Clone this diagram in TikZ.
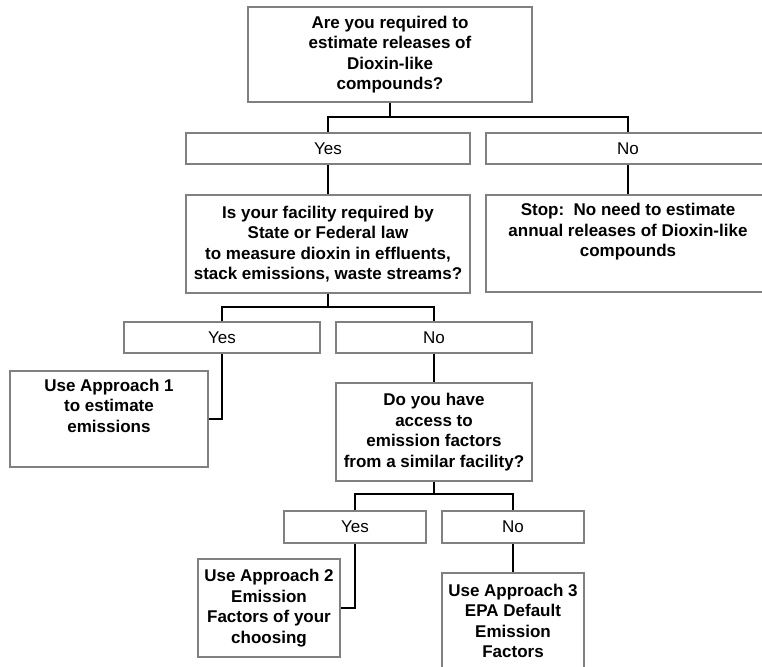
\documentclass[tikz,border=0pt]{standalone}
\usepackage{fontspec}
\setmainfont{Liberation Sans}
\begin{document}
\begin{tikzpicture}[
        x=1pt, y=-1pt,
        box/.style={rectangle, draw=black!50, line width=1.8pt, align=center, inner sep=0pt,
            font=\fontsize{17}{20.5}\selectfont},
        decision/.style={box, font=\fontsize{17}{20.5}\selectfont\bfseries},
        answer/.style={box, minimum height=31pt},
        result/.style={box, font=\fontsize{17}{20.5}\selectfont\bfseries},
        link/.style={line width=1.7pt, black}
    ]
        \useasboundingbox (0,0) rectangle (762,666);
        \clip (0,0) rectangle (762,666);

        % First question
        \node[decision, minimum width=284pt, minimum height=95pt] (q1) at (390,54.5)
            {Are you required to\\estimate releases of\\Dioxin-like\\compounds?};
        \node[answer, minimum width=284pt] (yes1) at (328,148.5) {Yes};
        \node[answer, minimum width=284pt] (no1) at (628,148.5) {No};
        \node[result, minimum width=284pt, minimum height=97pt] (stop) at (628,243.5)
            {Stop:\ \ No need to estimate\\annual releases of Dioxin-like\\compounds\\ \strut};

        % Second question
        \node[decision, minimum width=284pt, minimum height=98pt] (q2) at (328,244)
            {Is your facility required by\\State or Federal law\\to measure dioxin in effluents,\\stack emissions, waste streams?};
        \node[answer, minimum width=196pt] (yes2) at (222,337.5) {Yes};
        \node[answer, minimum width=196pt] (no2) at (434,337.5) {No};
        \node[result, minimum width=198pt, minimum height=96pt] (app1) at (109,419)
            {Use Approach 1\\to estimate\\emissions\\ \strut};

        % Third question
        \node[decision, minimum width=196pt, minimum height=98pt] (q3) at (434,432)
            {Do you have\\access to\\emission factors\\from a similar facility?};
        \node[answer, minimum width=142pt, minimum height=32pt] (yes3) at (355,527) {Yes};
        \node[answer, minimum width=142pt, minimum height=32pt] (no3) at (513,527) {No};
        \node[result, minimum width=142pt, minimum height=98pt] (app2) at (269,608)
            {Use Approach 2\\Emission\\Factors of your\\choosing};
        \node[result, minimum width=142pt, minimum height=96pt] (app3) at (513,621)
            {Use Approach 3\\EPA Default\\Emission\\Factors};

        \draw[link] (yes1.north) -- ++(0,-15) coordinate (j1) -| (no1.north);
        \draw[link] (q1.south) -- (q1.south |- j1);
        \draw[link] (yes1.south) -- (q2.north);
        \draw[link] (no1.south) -- (stop.north);

        \draw[link] (yes2.north) -- ++(0,-14) coordinate (j2) -| (no2.north);
        \draw[link] (q2.south) -- (q2.south |- j2);
        \draw[link] (yes2.south) |- (app1.east);
        \draw[link] (no2.south) -- (q3.north);

        \draw[link] (yes3.north) -- ++(0,-16) coordinate (j3) -| (no3.north);
        \draw[link] (q3.south) -- (q3.south |- j3);
        \draw[link] (yes3.south) |- (app2.east);
        \draw[link] (no3.south) -- (app3.north);
    \end{tikzpicture}
\end{document}
